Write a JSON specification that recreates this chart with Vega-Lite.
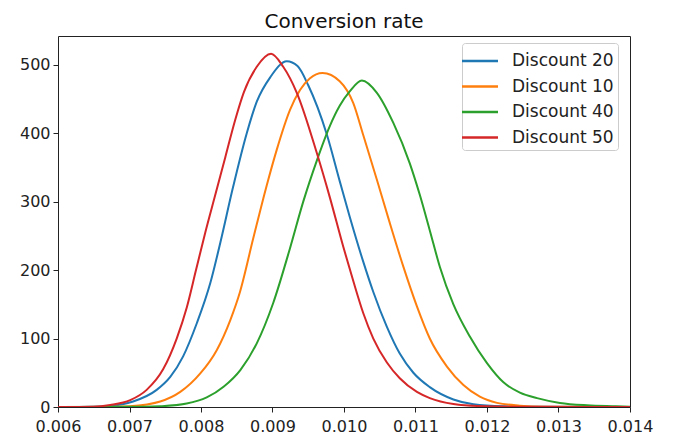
{
  "$schema": "https://vega.github.io/schema/vega-lite/v6.json",
  "width": 572,
  "height": 371,
  "autosize": "none",
  "padding": {"left": 58, "top": 36, "right": 51, "bottom": 31},
  "title": {"text": "Conversion rate", "fontSize": 20, "font": "DejaVu Sans", "fontWeight": "normal", "color": "#111", "baseline": "bottom", "offset": -16, "anchor": "middle"},
  "config": {
    "view": {"stroke": "#222", "strokeWidth": 1},
    "font": "DejaVu Sans",
    "axis": {"grid": false, "domain": false, "tickColor": "#222", "tickSize": 5, "labelFont": "DejaVu Sans", "labelFontSize": 16, "labelColor": "#222", "title": null}
  },
  "data": {"values": [
    {"g": "Discount 20", "x": 0.006, "y": 0},
    {"g": "Discount 20", "x": 0.0065, "y": 0.5},
    {"g": "Discount 20", "x": 0.00673, "y": 1.5},
    {"g": "Discount 20", "x": 0.00705, "y": 8},
    {"g": "Discount 20", "x": 0.00738, "y": 25},
    {"g": "Discount 20", "x": 0.00757, "y": 44},
    {"g": "Discount 20", "x": 0.00775, "y": 74},
    {"g": "Discount 20", "x": 0.00794, "y": 122},
    {"g": "Discount 20", "x": 0.00813, "y": 181},
    {"g": "Discount 20", "x": 0.00827, "y": 240},
    {"g": "Discount 20", "x": 0.00845, "y": 322},
    {"g": "Discount 20", "x": 0.00864, "y": 400},
    {"g": "Discount 20", "x": 0.00878, "y": 446},
    {"g": "Discount 20", "x": 0.00897, "y": 482},
    {"g": "Discount 20", "x": 0.0092, "y": 505},
    {"g": "Discount 20", "x": 0.00935, "y": 498},
    {"g": "Discount 20", "x": 0.0095, "y": 470},
    {"g": "Discount 20", "x": 0.00976, "y": 398},
    {"g": "Discount 20", "x": 0.00994, "y": 330},
    {"g": "Discount 20", "x": 0.01008, "y": 278},
    {"g": "Discount 20", "x": 0.01027, "y": 212},
    {"g": "Discount 20", "x": 0.01041, "y": 168},
    {"g": "Discount 20", "x": 0.0106, "y": 117},
    {"g": "Discount 20", "x": 0.01078, "y": 78},
    {"g": "Discount 20", "x": 0.01097, "y": 50},
    {"g": "Discount 20", "x": 0.0112, "y": 29},
    {"g": "Discount 20", "x": 0.01153, "y": 11},
    {"g": "Discount 20", "x": 0.01181, "y": 4},
    {"g": "Discount 20", "x": 0.01223, "y": 1},
    {"g": "Discount 20", "x": 0.0128, "y": 0.2},
    {"g": "Discount 20", "x": 0.014, "y": 0},

    {"g": "Discount 10", "x": 0.006, "y": 0},
    {"g": "Discount 10", "x": 0.0068, "y": 0.3},
    {"g": "Discount 10", "x": 0.007, "y": 1},
    {"g": "Discount 10", "x": 0.00743, "y": 8},
    {"g": "Discount 10", "x": 0.00771, "y": 22},
    {"g": "Discount 10", "x": 0.00799, "y": 49},
    {"g": "Discount 10", "x": 0.00822, "y": 83},
    {"g": "Discount 10", "x": 0.00841, "y": 127},
    {"g": "Discount 10", "x": 0.008545, "y": 168},
    {"g": "Discount 10", "x": 0.00873, "y": 246},
    {"g": "Discount 10", "x": 0.00892, "y": 324},
    {"g": "Discount 10", "x": 0.00906, "y": 376},
    {"g": "Discount 10", "x": 0.009245, "y": 434},
    {"g": "Discount 10", "x": 0.009385, "y": 463},
    {"g": "Discount 10", "x": 0.00952, "y": 480},
    {"g": "Discount 10", "x": 0.0097, "y": 488},
    {"g": "Discount 10", "x": 0.00994, "y": 476},
    {"g": "Discount 10", "x": 0.01013, "y": 444},
    {"g": "Discount 10", "x": 0.01027, "y": 397},
    {"g": "Discount 10", "x": 0.01046, "y": 332},
    {"g": "Discount 10", "x": 0.01064, "y": 269},
    {"g": "Discount 10", "x": 0.01083, "y": 205},
    {"g": "Discount 10", "x": 0.01102, "y": 147},
    {"g": "Discount 10", "x": 0.0112, "y": 100},
    {"g": "Discount 10", "x": 0.01144, "y": 59},
    {"g": "Discount 10", "x": 0.01167, "y": 32},
    {"g": "Discount 10", "x": 0.0119, "y": 15},
    {"g": "Discount 10", "x": 0.01214, "y": 6},
    {"g": "Discount 10", "x": 0.01246, "y": 2},
    {"g": "Discount 10", "x": 0.0128, "y": 0.5},
    {"g": "Discount 10", "x": 0.014, "y": 0},

    {"g": "Discount 40", "x": 0.006, "y": 0},
    {"g": "Discount 40", "x": 0.0072, "y": 0.3},
    {"g": "Discount 40", "x": 0.00743, "y": 1},
    {"g": "Discount 40", "x": 0.0078, "y": 5},
    {"g": "Discount 40", "x": 0.00808, "y": 14},
    {"g": "Discount 40", "x": 0.00832, "y": 30},
    {"g": "Discount 40", "x": 0.00855, "y": 54},
    {"g": "Discount 40", "x": 0.00878, "y": 93},
    {"g": "Discount 40", "x": 0.00901, "y": 152},
    {"g": "Discount 40", "x": 0.009245, "y": 232},
    {"g": "Discount 40", "x": 0.00943, "y": 300},
    {"g": "Discount 40", "x": 0.00962, "y": 360},
    {"g": "Discount 40", "x": 0.0098, "y": 410},
    {"g": "Discount 40", "x": 0.00994, "y": 440},
    {"g": "Discount 40", "x": 0.01008, "y": 461},
    {"g": "Discount 40", "x": 0.01025, "y": 477},
    {"g": "Discount 40", "x": 0.01046, "y": 459},
    {"g": "Discount 40", "x": 0.01069, "y": 415},
    {"g": "Discount 40", "x": 0.01092, "y": 356},
    {"g": "Discount 40", "x": 0.01106, "y": 310},
    {"g": "Discount 40", "x": 0.0112, "y": 258},
    {"g": "Discount 40", "x": 0.01134, "y": 205},
    {"g": "Discount 40", "x": 0.01153, "y": 150},
    {"g": "Discount 40", "x": 0.01176, "y": 103},
    {"g": "Discount 40", "x": 0.012, "y": 64},
    {"g": "Discount 40", "x": 0.01223, "y": 36},
    {"g": "Discount 40", "x": 0.01246, "y": 21},
    {"g": "Discount 40", "x": 0.0127, "y": 13},
    {"g": "Discount 40", "x": 0.01302, "y": 6},
    {"g": "Discount 40", "x": 0.0134, "y": 2.5},
    {"g": "Discount 40", "x": 0.0138, "y": 1},
    {"g": "Discount 40", "x": 0.014, "y": 0.3},

    {"g": "Discount 50", "x": 0.006, "y": 0},
    {"g": "Discount 50", "x": 0.0065, "y": 0.5},
    {"g": "Discount 50", "x": 0.00673, "y": 3},
    {"g": "Discount 50", "x": 0.00701, "y": 10},
    {"g": "Discount 50", "x": 0.00724, "y": 25},
    {"g": "Discount 50", "x": 0.00747, "y": 55},
    {"g": "Discount 50", "x": 0.00766, "y": 100},
    {"g": "Discount 50", "x": 0.0078, "y": 145},
    {"g": "Discount 50", "x": 0.00793, "y": 200},
    {"g": "Discount 50", "x": 0.00806, "y": 255},
    {"g": "Discount 50", "x": 0.0082, "y": 310},
    {"g": "Discount 50", "x": 0.00834, "y": 365},
    {"g": "Discount 50", "x": 0.00848, "y": 420},
    {"g": "Discount 50", "x": 0.0086, "y": 460},
    {"g": "Discount 50", "x": 0.00878, "y": 497},
    {"g": "Discount 50", "x": 0.00898, "y": 516},
    {"g": "Discount 50", "x": 0.00915, "y": 497},
    {"g": "Discount 50", "x": 0.00934, "y": 459},
    {"g": "Discount 50", "x": 0.00962, "y": 371},
    {"g": "Discount 50", "x": 0.0098, "y": 307},
    {"g": "Discount 50", "x": 0.00999, "y": 234},
    {"g": "Discount 50", "x": 0.01013, "y": 184},
    {"g": "Discount 50", "x": 0.01027, "y": 137},
    {"g": "Discount 50", "x": 0.01041, "y": 100},
    {"g": "Discount 50", "x": 0.0106, "y": 65},
    {"g": "Discount 50", "x": 0.01078, "y": 42},
    {"g": "Discount 50", "x": 0.01102, "y": 22},
    {"g": "Discount 50", "x": 0.0112, "y": 13},
    {"g": "Discount 50", "x": 0.01153, "y": 4.5},
    {"g": "Discount 50", "x": 0.012, "y": 1},
    {"g": "Discount 50", "x": 0.0126, "y": 0.3},
    {"g": "Discount 50", "x": 0.014, "y": 0}
  ]},
  "mark": {"type": "line", "interpolate": "monotone", "strokeWidth": 2, "clip": true},
  "encoding": {
    "x": {"field": "x", "type": "quantitative", "scale": {"domain": [0.006, 0.014], "nice": false, "zero": false},
      "axis": {"values": [0.006, 0.007, 0.008, 0.009, 0.010, 0.011, 0.012, 0.013, 0.014], "format": ".3f", "labelPadding": 6, "labelFlush": false}},
    "y": {"field": "y", "type": "quantitative", "scale": {"domain": [0, 542], "nice": false},
      "axis": {"values": [0, 100, 200, 300, 400, 500], "labelPadding": 3}},
    "color": {"field": "g", "type": "nominal", "sort": null,
      "scale": {"domain": ["Discount 20", "Discount 10", "Discount 40", "Discount 50"], "range": ["#1f77b4", "#ff7f0e", "#2ca02c", "#d62728"]},
      "legend": {"title": null, "orient": "none", "legendX": 404, "legendY": 7,
        "symbolType": "M-1.44,0H1.44", "symbolSize": 625, "symbolStrokeWidth": 2.5,
        "labelFont": "DejaVu Sans", "labelFontSize": 17, "labelColor": "#222", "labelOffset": 18,
        "padding": 4, "rowPadding": 3.5, "strokeColor": "#ccc", "fillColor": "#fff", "cornerRadius": 3}}
  }
}
